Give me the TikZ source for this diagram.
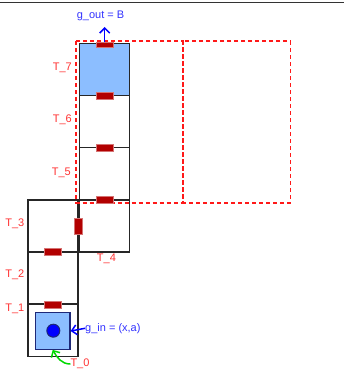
\documentclass[tikz,border=0pt]{standalone}
\usepackage{fontspec}
\setmainfont{Liberation Sans}
\usetikzlibrary{arrows.meta}
\definecolor{tileblue}{RGB}{140,190,255}
\definecolor{portred}{RGB}{178,0,0}
\definecolor{labred}{RGB}{255,50,50}
\definecolor{labblue}{RGB}{50,50,255}
\definecolor{navy}{RGB}{30,40,120}
\begin{document}
\begin{tikzpicture}[x=1pt,y=-1pt,
    font=\fontsize{11}{13}\selectfont,
    tile/.style={draw=black!85, line width=1.5pt, minimum width=50pt,
      minimum height=52pt, inner sep=0pt},
    hport/.style={fill=portred, draw=portred!55!white, line width=0.6pt,
      minimum width=17pt, minimum height=7pt, inner sep=0pt},
    vport/.style={hport, minimum width=8pt, minimum height=16pt},
    region/.style={draw=red!90!white, line width=1.8pt, dash pattern=on 4pt off 3pt},
    tlabel/.style={text=labred, inner sep=0pt},
    glabel/.style={text=labblue, inner sep=0pt},
    garrow/.style={draw=blue, line width=1.5pt,
      -{Straight Barb[length=5pt,width=10pt]}}]
  \useasboundingbox (0,0) rectangle (344,371);
  \draw [line width=1.6pt, black!80] (0,2.5) -- (344,2.5);

  % tiles
  \node (t7) [tile, fill=tileblue] at (104.7,69.5)  {};
  \node (t6) [tile] at (104.7,121.5) {};
  \node (t5) [tile] at (104.7,173.7) {};
  \node (t4) [tile] at (104.7,226)   {};
  \node (t3) [tile] at (52.8,226)    {};
  \node (t2) [tile] at (52.8,278)    {};
  \node (t1) [tile] at (52.8,330.3)  {};

  % regions
  \draw [region] (76,41.3) rectangle (182.7,202.7);
  \draw [region] (182.7,41.3) rectangle (290.5,202.7);

  % ports
  \node (p7) [hport, minimum height=5pt] at (104.7,45) {};
  \node (p76) [hport] at (104.7,96)   {};
  \node (p65) [hport] at (104.7,147.5) {};
  \node (p54) [hport] at (104.7,200)  {};
  \node (p43) [vport] at (78.3,226)   {};
  \node (p32) [hport] at (52.8,252)   {};
  \node (p21) [hport] at (52.8,304.5) {};

  % input
  \node (src) [draw=navy, fill=tileblue, line width=1.2pt, minimum width=34.7pt,
    minimum height=36.6pt, inner sep=0pt] at (52.7,331) {};
  \node (dot) [circle, draw=navy, fill=blue, line width=1pt,
    minimum size=13pt, inner sep=0pt] at (53.3,330.7) {};

  % labels
  \node (l7) [tlabel, anchor=east] at (72,67.7)  {T\_7};
  \node (l6) [tlabel, anchor=east] at (72,120)   {T\_6};
  \node (l5) [tlabel, anchor=east] at (71,173.3) {T\_5};
  \node (l3) [tlabel, anchor=east] at (24.5,223.7) {T\_3};
  \node (l2) [tlabel, anchor=east] at (24.5,275)   {T\_2};
  \node (l1) [tlabel, anchor=east] at (24.5,309.3) {T\_1};
  \node (l4) [tlabel] at (106.4,259.3) {T\_4};
  \node (l0) [tlabel] at (80,364) {T\_0};
  \node (gout) [glabel] at (100.5,16) {g\_out = B};
  \node (gin) [glabel, anchor=west] at (85,328.3) {g\_in = (x,a)};
  \coordinate (outtip) at (104.7,27);

  \draw [garrow] (p7.north) -- (outtip);
  \draw [garrow] (gin.west) -- (src.east);
  \draw [garrow, draw=green!85!black] (l0.west) to[out=180,in=-60] (src.south);
\end{tikzpicture}
\end{document}
